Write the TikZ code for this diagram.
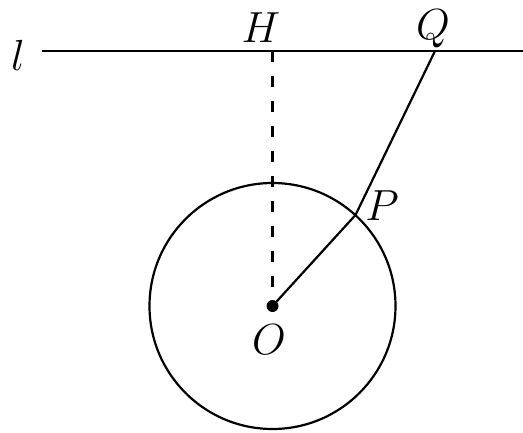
\documentclass[tikz,border=0pt]{standalone}
\usepackage{tikz}
\usetikzlibrary{positioning}

\begin{document}
\begin{tikzpicture}[x=1pt,y=-1pt,
lbl/.style={inner sep=0pt,font=\Huge,scale=1.75},
ln/.style={line width=2.2pt},
dashln/.style={line width=2.4pt,dash pattern=on 11pt off 14pt}
]
\useasboundingbox (0,0) rectangle (523,432);
\coordinate (O) at (272.5,306);
\coordinate (H) at (272.5,51);
\coordinate (Q) at (435,51);
\coordinate (P) at (355.5,215);
\coordinate (lstart) at (42,51);
\coordinate (lend) at (523,51);
\node[lbl] (l) at (18,55) {$l$};
\node[lbl] (labH) at (261,28) {$H$};
\node[lbl] (labQ) at (433,29) {$Q$};
\node[lbl] (labP) at (382,206) {$P$};
\node[lbl] (labO) at (269,340) {$O$};
\draw[line width=2.8pt] (lstart) -- (lend);
\draw[dashln] (H) -- (O);
\draw[ln] (O) circle[radius=123pt];
\draw[ln] (O) -- (P) -- (Q);
\fill (O) circle[radius=6pt];
\end{tikzpicture}
\end{document}
